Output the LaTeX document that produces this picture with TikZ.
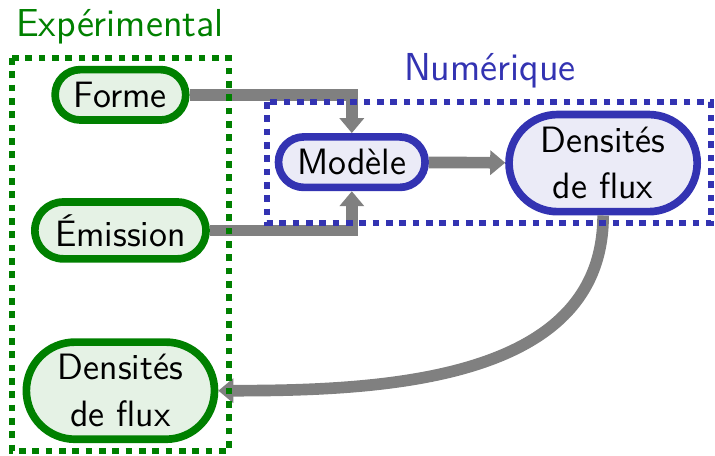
\documentclass[tikz,border=0pt]{standalone}
\usepackage{tikz}
\usetikzlibrary{shapes.misc,arrows.meta}

\definecolor{expgreen}{rgb}{0,0.5,0}
\definecolor{numblue}{rgb}{0.2,0.2,0.7}

\begin{document}
\begin{tikzpicture}[font=\fontsize{11}{14}\selectfont\sffamily,
    box/.style   = {rounded rectangle, line width=2.3pt, align=center, inner xsep=4.6pt, inner ysep=3.7pt},
    expbox/.style = {box, draw=expgreen, fill=expgreen!10},
    numbox/.style = {box, draw=numblue, fill=numblue!10},
    flow/.style  = {draw=gray, line width=3.5pt, -{Triangle[length=4.5pt, width=7.2pt]}},
    frame/.style = {line width=2pt, dotted},
    title/.style = {anchor=base, font=\fontsize{11.7}{14}\selectfont\sffamily}]
    \useasboundingbox (0,0) rectangle (7.54,-4.8);
    % left column
    \node[expbox] (forme)    at (1.27, -1.00) {Forme};
    \node[expbox] (emission) at (1.27, -2.43) {Émission};
    \node[expbox] (dl)       at (1.27, -4.12) {Densités\\de flux};
    % simulation side
    \node[numbox] (modele)   at (3.71, -1.71) {Modèle};
    \node[numbox] (dr)       at (6.36, -1.72) {Densités\\de flux};
    \draw[flow] (forme) -| (modele);
    \draw[flow] (emission) -| (modele);
    \draw[flow] (modele) -- (dr);
    \draw[flow] (dr.south) to [out=-90, in=0] (dl.east);
    % dotted frames and their titles
    \draw[frame, expgreen] (0.127, -0.612) rectangle (2.415, -4.756);
    \draw[frame, numblue]  (2.816, -1.076) rectangle (7.497, -2.352);
    \node[title, text=expgreen] (exptitle) at (1.265, -0.38) {Expérimental};
    \node[title, text=numblue]  (numtitle) at (5.167, -0.844) {Numérique};
\end{tikzpicture}
\end{document}
